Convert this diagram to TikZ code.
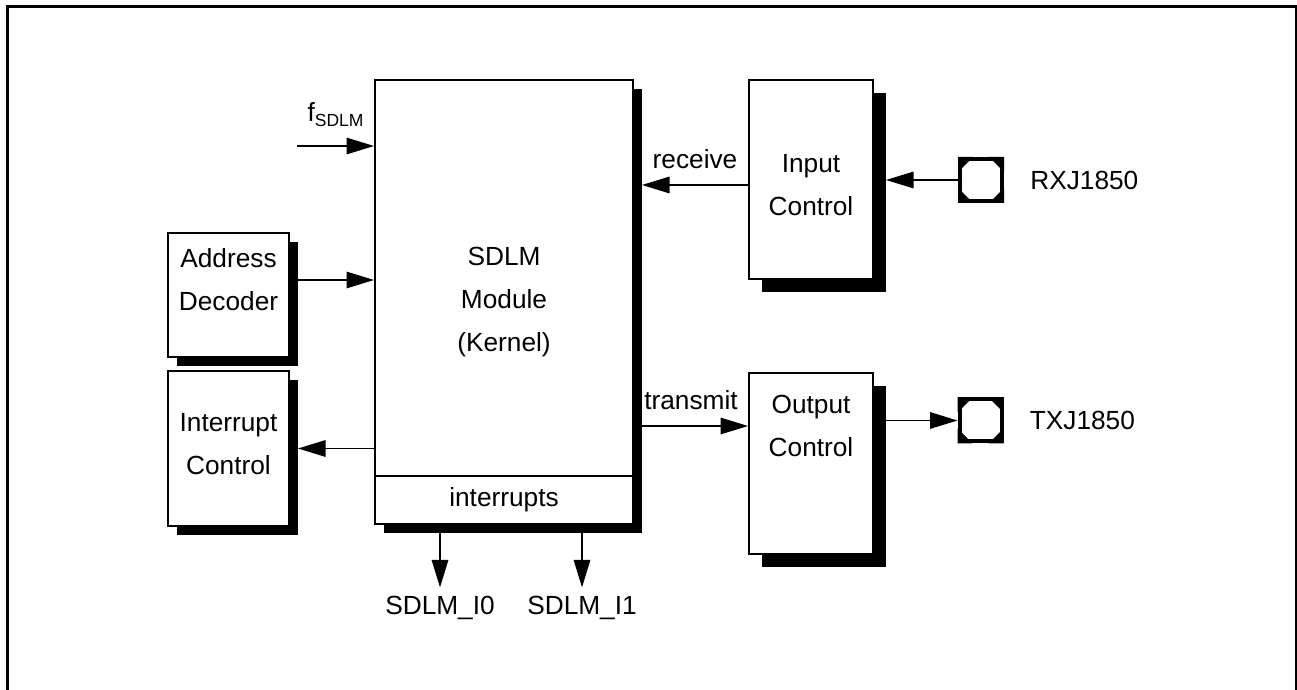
\documentclass[tikz,border=0pt]{standalone}
\usepackage{fontspec}
\setmainfont{Liberation Sans}
\usetikzlibrary{arrows.meta,positioning,shadows}

\begin{document}
\begin{tikzpicture}[
    x=0.4pt, y=-0.4pt,
    every node/.style={font=\fontsize{10.5}{17.2}\selectfont},
    txt/.style={align=center, inner sep=0pt},
    box/.style={draw, line width=0.8pt, fill=white},
    blk/.style={box, drop shadow={shadow xshift=3.6pt, shadow yshift=-3.6pt, opacity=1, fill=black}},
    bigblk/.style={box, drop shadow={shadow xshift=5.2pt, shadow yshift=-5.2pt, opacity=1, fill=black}},
    pin/.style={draw, line width=1.6pt, fill=white, minimum size=16.8pt, inner sep=0pt},
    sig/.style={line width=0.6pt, -{Triangle[length=11pt,width=6.6pt]}},
    sigrev/.style={line width=0.6pt, {Triangle[length=11pt,width=6.6pt]}-}
  ]
  \useasboundingbox (0,0) rectangle (1297,690);
  \draw[line width=1.2pt] (7,690) -- (7,7) -- (1296,7) -- (1296,690);

  % kernel
  \node[blk, minimum width=103.2pt, minimum height=177.6pt, align=center] (main) at (504,302) {SDLM\\Module\\(Kernel)};
  \draw[line width=0.8pt] (main.west |- 0,476) -- (main.east |- 0,476);
  \node (irq) at (504,500) {interrupts};

  % left side
  \node[blk, minimum width=48.4pt, minimum height=49.6pt] (addr) at (228.5,295) {};
  \node[txt] (addrt) at (228.5,280) {Address\\Decoder};
  \node[blk, minimum width=48.4pt, minimum height=62pt] (intr) at (228.5,448.5) {};
  \node[txt] (intrt) at (228.5,444.5) {Interrupt\\Control};

  % right side
  \node[bigblk, minimum width=49.6pt, minimum height=79.6pt] (inp) at (811,179.5) {};
  \node[txt] (inpt) at (811,185) {Input\\Control};
  \node[bigblk, minimum width=49.6pt, minimum height=72.4pt] (outp) at (811,463.5) {};
  \node[txt] (outpt) at (811,426) {Output\\Control};

  % pins
  \node[pin] (rx) at (981,180) {};
  \node[right=7pt of rx] (rxl) {RXJ1850};
  \node[pin] (tx) at (980.5,420.5) {};
  \node[right=7pt of tx] (txl) {TXJ1850};
  \foreach \p in {rx,tx} {
    \fill (\p.north west) -- ++(6pt,0) -- ++(-6pt,-6pt) -- cycle;
    \fill (\p.north east) -- ++(-6pt,0) -- ++(6pt,-6pt) -- cycle;
    \fill (\p.south west) -- ++(6pt,0) -- ++(-6pt,6pt) -- cycle;
    \fill (\p.south east) -- ++(-6pt,0) -- ++(6pt,6pt) -- cycle;
  }
  \node (i0) at (440,608) {SDLM\_I0};
  \node (i1) at (582,608) {SDLM\_I1};

  % signals
  \coordinate (fin) at (297,146);
  \draw[sig] (fin) -- (fin -| main.west) node[midway, above=4pt] {f\raisebox{-0.4ex}{\fontsize{7}{8}\selectfont SDLM}};
  \draw[sig] (addr.east |- addrt) ++(3.2pt,0) -- (addrt -| main.west);
  \draw[sigrev] (intr.east) ++(3.2pt,0) -- (intr -| main.west);
  \draw[sigrev] (main.east |- inpt) ++(3.2pt,0) -- (inpt -| inp.west) node[midway, above=3pt] {receive};
  \draw[sigrev] (inp.east |- rx) ++(4.8pt,0) -- (rx.west);
  \draw[sig] (main.east |- outpt) -- (outpt -| outp.west) node[midway, above=3pt] {transmit};
  \draw[sig] (outp.east |- tx) ++(4.8pt,0) -- (tx.west);
  \draw[sig] (main.south -| i0) ++(0,-3.2pt) -- (i0.north);
  \draw[sig] (main.south -| i1) ++(0,-3.2pt) -- (i1.north);
\end{tikzpicture}
\end{document}
